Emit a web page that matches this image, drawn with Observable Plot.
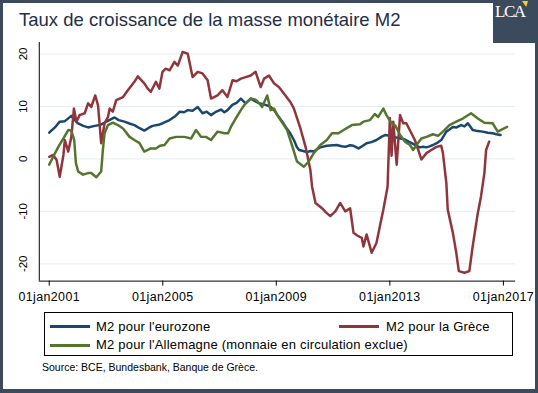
<!DOCTYPE html>
<html><head><meta charset="utf-8">
<script src="https://cdn.jsdelivr.net/npm/d3@7"></script>
<script src="https://cdn.jsdelivr.net/npm/@observablehq/plot@0.6"></script>
<style>
html,body{margin:0;padding:0;background:#3b4a5d;width:538px;height:393px;overflow:hidden;font-family:"Liberation Sans",Arial,sans-serif;}
#panel{position:absolute;left:3px;top:3px;width:532px;height:386px;background:#fff;overflow:hidden;}
#logo{position:absolute;left:493px;top:0;width:45px;height:43px;background:#3b4a5d;z-index:5;}
#logo .txt{position:absolute;left:2px;top:3px;font-family:"Liberation Serif","DejaVu Serif",serif;font-size:17px;line-height:17px;color:#fff;letter-spacing:-1.5px;}
#logo .tri{position:absolute;left:29px;top:1px;width:6px;height:6px;background:#f3d21a;clip-path:polygon(0 0,100% 0,70% 100%);}
#title{position:absolute;left:16px;top:8px;font-size:18.5px;line-height:18.5px;color:#1f2e48;white-space:nowrap;}
#chart{position:absolute;left:-3px;top:33px;}
#legend{position:absolute;left:41px;top:309px;width:469px;height:44px;box-sizing:border-box;border:1px solid #000;}
#legend .sw{position:absolute;width:40px;height:3px;}
#legend .lb{position:absolute;font-size:13px;line-height:13px;letter-spacing:0.2px;color:#000;white-space:nowrap;}
#source{position:absolute;left:39px;top:359px;font-size:10.5px;line-height:11px;color:#000;white-space:nowrap;}
g[aria-label="x-axis tick label"] text{letter-spacing:0.4px;}
</style>
</head><body>
<div id="panel">
  <div id="title"></div>
  <div id="chart"></div>
  <div id="legend"></div>
  <div id="source"></div>
</div>
<div id="logo"><div class="txt">LCA</div><div class="tri"></div></div>
<script>
const titleText = "Taux de croissance de la masse monétaire M2";
const sourceText = "Source: BCE, Bundesbank, Banque de Grèce.";
const seriesNames = ["M2 pour l'eurozone", "M2 pour la Grèce", "M2 pour l'Allemagne (monnaie en circulation exclue)"];
const seriesColors = ["#1a476f", "#90353b", "#55752f"];
const xTicks = [2001, 2005, 2009, 2013, 2017];
const xTickLabels = ["01jan2001", "01jan2005", "01jan2009", "01jan2013", "01jan2017"];
const yTicks = [-20, -10, 0, 10, 20];

// [decimal year, growth rate %]
const eurozone = [
[2001.0,5.0],[2001.2,6.0],[2001.37,7.1],[2001.55,7.2],[2001.78,8.2],[2002.0,6.8],[2002.2,6.3],[2002.37,6.0],
[2002.6,6.3],[2002.78,6.45],[2002.95,6.9],[2003.15,7.5],[2003.3,7.9],[2003.45,7.4],[2003.65,7.1],[2003.85,6.7],
[2004.0,6.45],[2004.2,5.8],[2004.35,5.4],[2004.5,5.9],[2004.64,6.3],[2004.85,6.5],[2005.0,6.8],[2005.24,7.4],
[2005.45,8.2],[2005.6,9.0],[2005.75,8.9],[2005.88,9.3],[2006.05,9.2],[2006.23,9.9],[2006.4,8.7],[2006.55,9.0],
[2006.7,8.35],[2006.85,8.9],[2007.05,9.4],[2007.17,8.9],[2007.28,9.3],[2007.45,10.3],[2007.6,10.7],[2007.75,11.5],
[2007.92,10.6],[2008.1,11.5],[2008.25,11.0],[2008.4,10.6],[2008.55,10.4],[2008.68,10.2],[2008.8,9.9],[2008.92,9.3],
[2009.05,8.3],[2009.2,7.2],[2009.33,6.1],[2009.5,4.8],[2009.62,3.6],[2009.72,2.3],[2009.8,1.7],[2009.95,1.5],
[2010.08,1.3],[2010.2,1.5],[2010.32,1.4],[2010.45,1.9],[2010.55,2.2],[2010.78,2.5],[2011.0,2.6],[2011.13,2.65],
[2011.3,2.4],[2011.43,2.3],[2011.6,2.6],[2011.72,2.5],[2011.9,2.0],[2012.05,2.5],[2012.18,3.0],[2012.35,3.2],
[2012.53,3.6],[2012.7,4.2],[2012.83,4.55],[2013.0,4.4],[2013.12,4.2],[2013.3,4.0],[2013.53,3.7],[2013.7,3.2],
[2013.82,2.85],[2014.05,2.2],[2014.17,2.3],[2014.29,2.2],[2014.4,2.4],[2014.52,2.65],[2014.65,3.0],[2014.81,3.6],
[2014.99,5.2],[2015.1,5.6],[2015.22,6.1],[2015.35,6.0],[2015.51,6.45],[2015.63,6.2],[2015.75,6.8],[2015.92,5.5],
[2016.1,5.3],[2016.27,5.2],[2016.45,5.0],[2016.62,4.9],[2016.75,4.7],[2016.9,4.55]
];
const greece = [
[2001.0,0.4],[2001.14,0.75],[2001.26,-0.2],[2001.37,-3.4],[2001.5,0.75],[2001.55,3.6],[2001.67,1.4],[2001.78,4.2],
[2001.87,9.6],[2001.96,7.1],[2002.07,8.35],[2002.25,8.7],[2002.37,10.6],[2002.48,9.9],[2002.62,12.1],[2002.72,10.2],
[2002.83,3.0],[2002.95,6.8],[2003.07,8.0],[2003.13,9.6],[2003.24,9.0],[2003.36,11.2],[2003.6,11.8],[2003.77,13.1],
[2004.0,14.7],[2004.12,15.75],[2004.35,14.4],[2004.47,13.4],[2004.58,12.8],[2004.76,14.7],[2004.88,13.4],[2004.99,16.6],
[2005.1,17.2],[2005.24,16.9],[2005.41,18.5],[2005.53,17.8],[2005.7,20.4],[2005.88,20.05],[2006.05,15.6],[2006.23,16.6],
[2006.4,16.3],[2006.58,15.0],[2006.7,11.5],[2006.93,12.1],[2007.1,13.1],[2007.28,11.8],[2007.46,15.0],[2007.6,14.8],
[2007.75,15.3],[2007.92,15.6],[2008.1,15.9],[2008.27,16.6],[2008.45,13.7],[2008.57,15.3],[2008.74,15.9],[2008.92,14.4],
[2009.09,13.7],[2009.32,12.1],[2009.5,10.8],[2009.62,9.6],[2009.85,5.8],[2010.03,2.3],[2010.2,-2.1],[2010.26,-5.3],
[2010.38,-8.4],[2010.61,-9.4],[2010.75,-10.2],[2010.9,-10.9],[2011.08,-10.0],[2011.25,-8.4],[2011.43,-10.0],[2011.6,-9.4],
[2011.72,-14.1],[2011.85,-14.6],[2012.01,-15.05],[2012.07,-16.7],[2012.18,-14.4],[2012.36,-17.9],[2012.53,-16.0],[2012.65,-12.8],
[2012.77,-9.7],[2012.92,-5.3],[2013.0,7.8],[2013.06,0.6],[2013.12,7.1],[2013.24,-1.1],[2013.36,8.35],[2013.47,6.8],
[2013.58,6.8],[2013.76,4.9],[2013.88,3.6],[2014.0,1.7],[2014.11,-0.1],[2014.29,1.1],[2014.46,1.7],[2014.64,2.3],
[2014.81,2.5],[2014.87,1.1],[2014.99,-4.6],[2015.04,-9.7],[2015.22,-14.1],[2015.34,-17.9],[2015.43,-21.4],[2015.63,-21.7],
[2015.8,-21.4],[2015.92,-16.6],[2016.1,-10.3],[2016.21,-7.2],[2016.33,-2.7],[2016.39,1.7],[2016.5,3.3]
];
const germany = [
[2001.0,-1.1],[2001.14,0.4],[2001.32,2.3],[2001.5,3.9],[2001.67,5.5],[2001.78,5.4],[2001.88,3.6],[2001.94,-0.8],
[2002.02,-2.4],[2002.19,-3.0],[2002.37,-2.7],[2002.48,-2.7],[2002.66,-3.5],[2002.83,-2.4],[2002.89,1.7],[2002.95,4.9],
[2003.07,6.45],[2003.24,6.9],[2003.42,6.45],[2003.6,5.8],[2003.83,4.2],[2004.0,3.6],[2004.18,3.0],[2004.35,1.4],
[2004.58,2.0],[2004.76,2.0],[2004.9,2.5],[2005.06,2.65],[2005.24,3.9],[2005.47,4.2],[2005.76,4.2],[2006.0,3.9],
[2006.17,5.5],[2006.35,4.2],[2006.52,4.2],[2006.7,3.6],[2006.93,5.2],[2007.17,4.9],[2007.3,4.9],[2007.4,6.1],
[2007.57,7.7],[2007.75,9.3],[2007.92,10.6],[2008.1,11.5],[2008.27,11.3],[2008.4,10.6],[2008.5,9.9],[2008.68,12.1],
[2008.8,9.3],[2008.92,9.6],[2009.03,8.35],[2009.15,7.4],[2009.38,5.5],[2009.55,2.65],[2009.73,-0.5],[2009.97,-1.5],
[2010.14,-0.5],[2010.32,1.1],[2010.55,2.65],[2010.78,3.6],[2010.96,4.9],[2011.19,4.9],[2011.37,5.5],[2011.66,6.45],
[2011.95,6.6],[2012.07,7.1],[2012.3,7.4],[2012.47,8.55],[2012.59,8.0],[2012.77,9.6],[2012.88,8.35],[2013.06,6.8],
[2013.2,6.3],[2013.36,4.55],[2013.53,3.3],[2013.71,2.65],[2013.82,1.7],[2013.94,2.65],[2014.11,3.9],[2014.29,4.2],
[2014.52,4.7],[2014.7,4.4],[2014.87,5.2],[2015.1,6.45],[2015.34,7.1],[2015.57,7.7],[2015.86,8.7],[2016.1,7.7],
[2016.33,6.9],[2016.62,6.8],[2016.8,5.2],[2016.9,5.5],[2017.13,6.1]
];

const xDomain = [2000.65, 2017.43];
const yDomain = [-23.3, 22.2];

const rows = [];
[eurozone, greece, germany].forEach((s, k) => s.forEach(([year, value]) => rows.push({year, value, series: seriesNames[k]})));

const chart = Plot.plot({
  width: 538, height: 270,
  marginTop: 6, marginBottom: 24, marginLeft: 39, marginRight: 20,
  style: {background: "transparent", fontFamily: "'Liberation Sans', Arial, sans-serif", color: "#000", overflow: "visible"},
  x: {domain: xDomain},
  y: {domain: yDomain, axis: null},
  color: {domain: seriesNames, range: seriesColors},
  marks: [
    Plot.gridY({ticks: yTicks, stroke: "#e5edef", strokeOpacity: 1, strokeWidth: 1}),
    Plot.line(rows, {x: "year", y: "value", z: "series", stroke: "series", strokeWidth: 2.5, strokeLinejoin: "round"}),
    Plot.ruleX([xDomain[0]], {stroke: "#000", strokeWidth: 1}),
    Plot.ruleY([yDomain[0]], {stroke: "#000", strokeWidth: 1}),
    Plot.text(yTicks, {y: d => d, text: d => String(d), frameAnchor: "left", dx: -16.5, rotate: -90, textAnchor: "middle", lineAnchor: "middle", fontSize: 11.5, fill: "#000"}),
    Plot.axisX({ticks: xTicks, tickFormat: d => xTickLabels[xTicks.indexOf(d)], tickSize: 5, tickPadding: 6, fontSize: 12.5, label: null})
  ]
});
document.getElementById("chart").appendChild(chart);
document.getElementById("title").textContent = titleText;
document.getElementById("source").textContent = sourceText;

const legend = document.getElementById("legend");
const legendPos = [{lx: 5, tx: 51, cy: 13.5}, {lx: 294, tx: 341, cy: 13.5}, {lx: 5, tx: 51, cy: 32.4}];
seriesNames.forEach((name, i) => {
  const p = legendPos[i];
  const sw = document.createElement("div");
  sw.className = "sw";
  sw.style.left = p.lx + "px"; sw.style.top = (p.cy - 1.5) + "px"; sw.style.background = seriesColors[i];
  legend.appendChild(sw);
  const lb = document.createElement("div");
  lb.className = "lb";
  lb.style.left = p.tx + "px"; lb.style.top = (p.cy - 7) + "px";
  lb.textContent = name;
  legend.appendChild(lb);
});
</script>
</body></html>
